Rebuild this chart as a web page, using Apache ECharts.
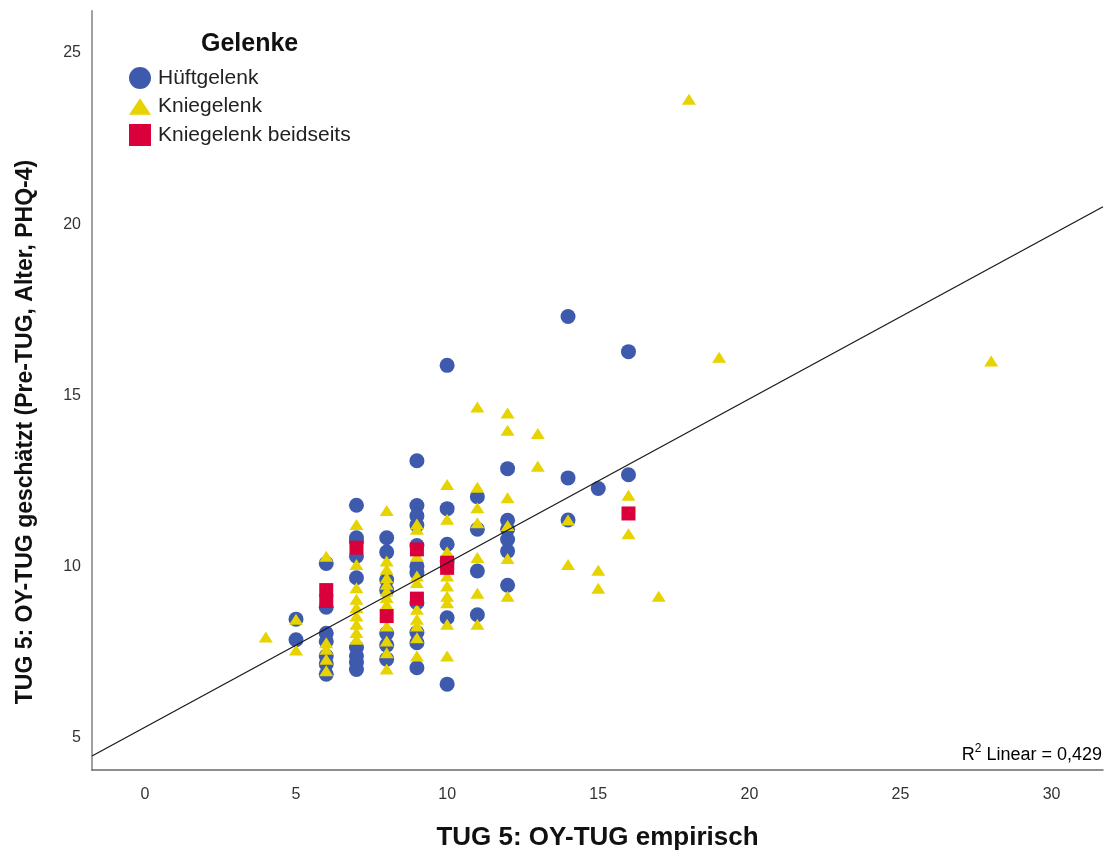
<!DOCTYPE html>
<html>
<head>
<meta charset="utf-8">
<script src="https://cdn.jsdelivr.net/npm/echarts@6/dist/echarts.min.js"></script>
<style>
  html, body { margin: 0; padding: 0; background: #ffffff; }
  #chart { width: 1108px; height: 856px; }
</style>
</head>
<body>
<div id="chart"></div>
<script>
// TUG 5: empirical OY-TUG (x) versus estimated OY-TUG (y), grouped by joint.

const groupNames = ['Hüftgelenk', 'Kniegelenk', 'Kniegelenk beidseits'];

// Hüftgelenk: [empirisch, geschätzt]
const hipPoints = [
  [5, 8.45], [5, 7.85],
  [6, 10.08], [6, 8.8], [6, 8.04], [6, 7.8], [6, 7.37], [6, 7.14], [6, 6.84],
  [7, 11.78], [7, 10.83], [7, 10.72], [7, 10.29], [7, 9.66], [7, 7.62], [7, 7.37], [7, 7.18], [7, 6.98],
  [8, 10.83], [8, 10.41], [8, 9.6], [8, 9.3], [8, 8.04], [8, 7.69], [8, 7.28],
  [9, 13.08], [9, 11.77], [9, 11.47], [9, 11.2], [9, 10.6], [9, 10.0], [9, 9.81], [9, 8.93], [9, 8.06], [9, 7.76], [9, 7.03],
  [10, 15.87], [10, 11.68], [10, 10.64], [10, 10.15], [10, 8.49], [10, 6.55],
  [11, 12.03], [11, 11.08], [11, 9.86], [11, 8.58],
  [12, 12.85], [12, 11.34], [12, 11.08], [12, 10.78], [12, 10.44], [12, 9.44],
  [14, 17.3], [14, 12.58], [14, 11.35],
  [15, 12.27],
  [16, 16.27], [16, 12.67]
];

// Kniegelenk
const kneePoints = [
  [4, 7.93],
  [5, 8.45], [5, 7.55],
  [6, 10.29], [6, 7.76], [6, 7.57], [6, 7.28], [6, 6.94],
  [7, 11.22], [7, 10.05], [7, 9.37], [7, 9.03], [7, 8.79], [7, 8.54], [7, 8.3], [7, 8.06], [7, 7.86],
  [8, 11.63], [8, 10.15], [8, 9.91], [8, 9.66], [8, 9.47], [8, 9.27], [8, 9.08], [8, 8.88], [8, 8.25], [8, 7.81], [8, 7.47], [8, 6.99],
  [9, 11.23], [9, 11.08], [9, 10.29], [9, 9.71], [9, 9.52], [9, 8.74], [9, 8.45], [9, 8.25], [9, 7.91], [9, 7.37],
  [10, 12.39], [10, 11.37], [10, 10.42], [10, 9.71], [10, 9.42], [10, 9.12], [10, 8.93], [10, 8.3], [10, 7.37],
  [11, 14.65], [11, 12.31], [11, 11.71], [11, 11.27], [11, 10.25], [11, 9.21], [11, 8.3],
  [12, 14.48], [12, 13.97], [12, 12.0], [12, 11.19], [12, 10.22], [12, 9.12],
  [13, 13.88], [13, 12.92],
  [14, 11.35], [14, 10.05],
  [15, 9.88], [15, 9.35],
  [16, 12.07], [16, 10.95],
  [17, 9.12],
  [18, 23.65],
  [19, 16.11],
  [28, 16.0]
];

// Kniegelenk beidseits
const bothKneesPoints = [
  [6, 9.3], [6, 8.98],
  [7, 10.54],
  [8, 8.54],
  [9, 10.49], [9, 9.05],
  [10, 10.1], [10, 9.95],
  [16, 11.54]
];

// Linear fit over all cases
const fitIntercept = 5.29;
const fitSlope = 0.48;
const fitR2Text = '0,429';

// Axis ranges
const xRange = [-1.75, 31.7];
const yRange = [4.04, 26.23];

const xTitle = 'TUG 5: OY-TUG empirisch';
const yTitle = 'TUG 5: OY-TUG geschätzt (Pre-TUG, Alter, PHQ-4)';
const legendTitle = 'Gelenke';

const colors = ['#3E5AAD', '#E6D300', '#D9003B'];
const fitLine = xRange.map(x => [x, fitIntercept + fitSlope * x]);

const chart = echarts.init(document.getElementById('chart'), null, { renderer: 'canvas' });
const baseFont = 'Liberation Sans, Arial, sans-serif';
const trianglePath = 'path://M10,0 L20,15 L0,15 Z';
const multipleOf5 = v => (Math.abs(v % 5) < 1e-9 ? String(v) : '');

chart.setOption({
  backgroundColor: '#ffffff',
  animation: false,
  textStyle: { fontFamily: baseFont },
  grid: { left: 92, right: 5, top: 11, bottom: 85, containLabel: false },
  title: {
    text: legendTitle,
    left: 196, top: 27,
    textStyle: { fontFamily: baseFont, fontSize: 25, fontWeight: 'bold', color: '#111' }
  },
  legend: {
    orient: 'vertical',
    left: 129, top: 67,
    padding: 0,
    itemWidth: 22, itemHeight: 22, itemGap: 7,
    textStyle: { fontFamily: baseFont, fontSize: 21, color: '#222', padding: [0, 0, 0, 2] },
    data: [
      { name: groupNames[0], icon: 'circle' },
      { name: groupNames[1], icon: trianglePath },
      { name: groupNames[2], icon: 'rect' }
    ]
  },
  xAxis: {
    type: 'value',
    min: xRange[0], max: xRange[1],
    splitNumber: 7,
    name: xTitle,
    nameLocation: 'middle',
    nameGap: 55,
    nameTextStyle: { fontFamily: baseFont, fontSize: 26, fontWeight: 'bold', color: '#111' },
    axisLine: { show: true, onZero: false, lineStyle: { color: '#6a6a6a', width: 1.5 } },
    axisTick: { show: false },
    splitLine: { show: false },
    axisLabel: { margin: 17, fontSize: 16, color: '#333', formatter: multipleOf5 }
  },
  yAxis: {
    type: 'value',
    min: yRange[0], max: yRange[1],
    splitNumber: 5,
    axisLine: { show: true, onZero: false, lineStyle: { color: '#a0a0a0', width: 2 } },
    axisTick: { show: false },
    splitLine: { show: false },
    axisLabel: { margin: 11, fontSize: 16, color: '#333', formatter: multipleOf5 }
  },
  series: [
    {
      name: groupNames[0], type: 'scatter', data: hipPoints,
      symbol: 'circle', symbolSize: 15,
      itemStyle: { color: colors[0], opacity: 1 }, z: 2
    },
    {
      name: groupNames[1], type: 'scatter', data: kneePoints,
      symbol: 'triangle', symbolSize: [14, 11],
      itemStyle: { color: colors[1], opacity: 1 }, z: 3
    },
    {
      name: groupNames[2], type: 'scatter', data: bothKneesPoints,
      symbol: 'rect', symbolSize: 14,
      itemStyle: { color: colors[2], opacity: 1 }, z: 4
    },
    {
      name: 'fit', type: 'line', data: fitLine,
      showSymbol: false, symbol: 'none',
      lineStyle: { color: '#1a1a1a', width: 1.3 },
      silent: true, z: 5
    }
  ],
  graphic: [
    {
      type: 'text',
      x: 26, y: 432,
      rotation: Math.PI / 2,
      style: {
        text: yTitle,
        font: 'bold 23px Liberation Sans, Arial, sans-serif',
        fill: '#111',
        align: 'center',
        verticalAlign: 'middle'
      }
    },
    {
      type: 'text',
      right: 6, top: 743,
      style: {
        text: '{a|R}{s|2}{a| Linear = ' + fitR2Text + '}',
        rich: {
          a: { fontFamily: baseFont, fontSize: 18, color: '#222', verticalAlign: 'bottom', lineHeight: 21 },
          s: { fontFamily: baseFont, fontSize: 12, color: '#222', verticalAlign: 'top', lineHeight: 13 }
        }
      }
    }
  ]
});
</script>
</body>
</html>
